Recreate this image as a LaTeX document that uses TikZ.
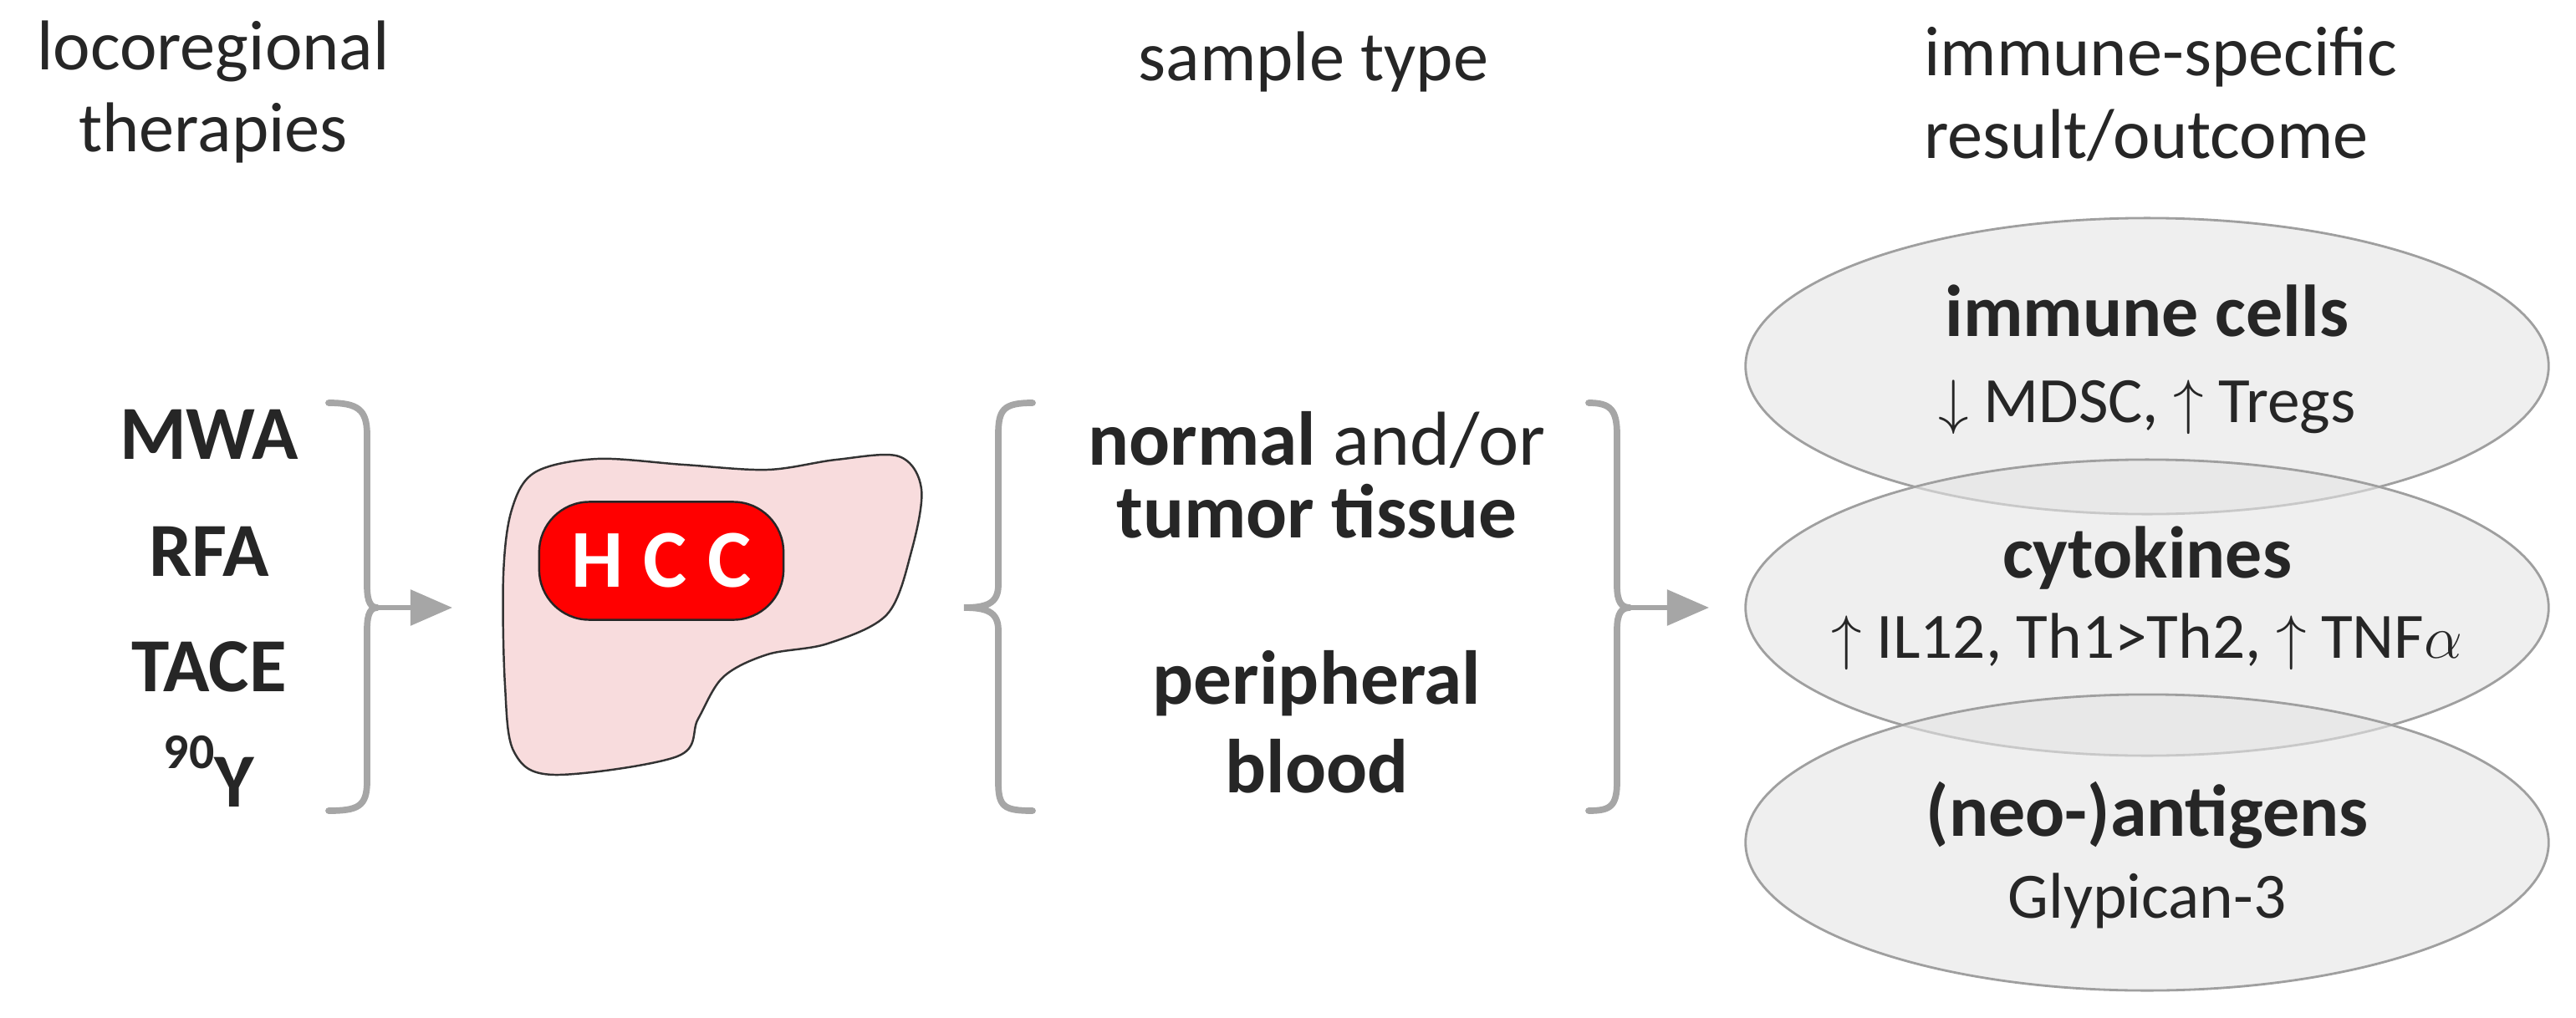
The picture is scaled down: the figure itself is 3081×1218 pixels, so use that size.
\documentclass[tikz,border=0pt]{standalone}
\usepackage{fontspec}
\setmainfont{Carlito}
\usetikzlibrary{arrows.meta,shapes.geometric}
\definecolor{txt}{HTML}{262626}
\definecolor{brc}{HTML}{A6A6A6}
\definecolor{liver}{HTML}{F8DCDD}
\definecolor{ell}{HTML}{E4E4E4}
\tikzset{
    head/.style={font=\fontsize{24}{28}\selectfont, text=txt, align=center},
    lab/.style={font=\bfseries\fontsize{26}{30}\selectfont, text=txt, anchor=base},
    brace/.style={draw=brc, line width=2.2pt, line cap=round},
    link/.style={brc, line width=1.6pt, -{Triangle[length=0.5cm,width=0.42cm]}},
    result/.style={ellipse, draw=gray!75, line width=0.8pt, fill=ell, fill opacity=0.6,
        minimum width=9.6cm, minimum height=3.54cm, inner sep=0pt},
    ttl/.style={font=\bfseries\fontsize{25}{30}\selectfont, text=txt},
    sub/.style={font=\fontsize{22}{26}\selectfont, text=txt}
}
\begin{document}
\begin{tikzpicture}[x=0.01cm, y=-0.01cm]
    \useasboundingbox (0,0) rectangle (3081,1218);
    % headings
    \node[head] (hLoco) at (255,110) {locoregional\\therapies};
    \node[head, anchor=base] (hSample) at (1571,97) {sample type};
    \node[head, align=left, anchor=north west] (hResult) at (2289,20) {immune-specific\\result/outcome};
    % therapies
    \node[lab] (mwa) at (250,549) {MWA};
    \node[lab] (rfa) at (250,689) {RFA};
    \node[lab] (tace) at (250,827) {TACE};
    \node[lab] (yt) at (250,965) {\raisebox{0.5em}{\fontsize{17}{20}\selectfont 90}Y};
    % left brace
    \coordinate (tipL) at (452,727);
    \coordinate (liverIn) at (541,727);
    \draw[brace] (393,482) .. controls (428,482) and (439,490) .. (439,520)
        -- (439,700) .. controls (439,722) and (444,727) .. (tipL)
        .. controls (444,727) and (439,732) .. (439,754)
        -- (439,935) .. controls (439,965) and (428,970) .. (393,970);
    \draw[link] (tipL) -- (liverIn);
    % liver
    \draw[gray!40!black, line width=0.7pt, fill=liver] plot[smooth cycle, tension=0.55] coordinates {
        (640,565) (714,549) (818,556) (918,562) (1000,550) (1075,546) (1102,585)
        (1090,660) (1061,735) (990,770) (918,783) (865,810) (835,860) (810,905)
        (663,927) (615,900) (604,820) (602,689) (612,610)};
    \node[draw=gray!30!black, fill=red, rounded corners=0.6cm, line width=0.7pt,
        minimum width=2.92cm, minimum height=1.41cm, text=white,
        font=\bfseries\fontsize{28}{30}\selectfont\addfontfeature{LetterSpace=25}] (hcc) at (791,671) {HCC};
    % middle brace
    \coordinate (tipM) at (1153,727);
    \draw[brace] (1235,482) .. controls (1200,482) and (1194,490) .. (1194,520)
        -- (1194,700) .. controls (1194,722) and (1180,727) .. (tipM)
        .. controls (1180,727) and (1194,732) .. (1194,754)
        -- (1194,935) .. controls (1194,965) and (1200,970) .. (1235,970);
    % sample types
    \node[lab, font=\fontsize{26}{30}\selectfont] (normal) at (1575,556) {\textbf{normal} and/or};
    \node[lab] (tumor) at (1575,643) {tumor tissue};
    \node[lab] (periph) at (1575,842) {peripheral};
    \node[lab] (blood) at (1575,948) {blood};
    % right brace
    \coordinate (tipR) at (1950,727);
    \coordinate (resIn) at (2044,727);
    \draw[brace] (1900,482) .. controls (1926,482) and (1934,490) .. (1934,520)
        -- (1934,700) .. controls (1934,722) and (1940,727) .. (tipR)
        .. controls (1940,727) and (1934,732) .. (1934,754)
        -- (1934,935) .. controls (1934,965) and (1926,970) .. (1900,970);
    \draw[link] (tipR) -- (resIn);
    % results
    \node[result] (cells) at (2568,438) {};
    \node[result] (cyto) at (2568,727) {};
    \node[result] (anti) at (2568,1008) {};
    \node[ttl] at (2568,372) {immune cells};
    \node[sub] at (2568,487) {$\downarrow$ MDSC, $\uparrow$ Tregs};
    \node[ttl] at (2568,668) {cytokines};
    \node[sub] at (2568,768) {$\uparrow$ IL12, Th1>Th2, $\uparrow$ TNF$\alpha$};
    \node[ttl] at (2568,975) {(neo-)antigens};
    \node[sub] at (2568,1078) {Glypican-3};
\end{tikzpicture}
\end{document}
